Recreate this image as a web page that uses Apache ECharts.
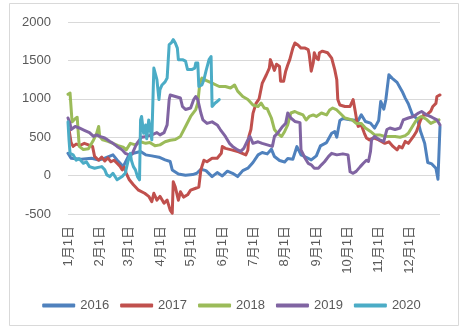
<!DOCTYPE html>
<html>
<head>
<meta charset="utf-8">
<script src="https://cdn.jsdelivr.net/npm/echarts@6/dist/echarts.min.js"></script>
<style>
  html, body { margin: 0; padding: 0; background: #fff; }
  #chart { width: 463px; height: 331px; }
</style>
</head>
<body>
<div id="chart"></div>
<script>
// Series names and colours
const seriesNames = ['2016', '2017', '2018', '2019', '2020'];
const seriesColors = ['#4F81BD', '#C0504D', '#9BBB59', '#8064A2', '#4BACC6'];

// Y axis range
const yTicks = [-500, 0, 500, 1000, 1500, 2000];

// Values as [day of year (0 = 1月1日), value]
const s2016 = [
  [0,291],[3,226],[13,213],[23,226],[30,204],[36,226],[44,270],[48,204],[51,161],[54,117],
  [59,248],[64,291],[71,313],[76,270],[82,257],[89,239],[95,204],[100,183],[102,74],[108,22],
  [115,4],[122,13],[126,30],[130,83],[135,65],[141,-13],[146,39],[151,-4],[156,57],[161,30],
  [166,-13],[171,65],[176,96],[181,170],[186,270],[190,300],[195,283],[199,344],[202,248],[207,196],
  [212,178],[215,222],[220,213],[224,378],[228,270],[233,239],[238,204],[243,257],[247,387],[253,430],
  [258,552],[261,574],[263,500],[266,718],[269,744],[276,726],[284,718],[287,792],[291,705],[296,683],
  [300,618],[304,718],[306,966],[309,866],[311,987],[314,1314],[317,1270],[322,1214],[327,1096],[330,1009],
  [333,935],[337,792],[342,735],[345,574],[349,422],[352,170],[356,152],[360,96],[362,-48],[363,-35],
  [364,640]
];
const s2017 = [
  [1,600],[3,430],[5,380],[8,410],[12,395],[16,420],[20,400],[24,380],[26,250],[30,200],
  [33,240],[36,190],[39,230],[42,180],[45,200],[48,160],[51,120],[53,75],[55,110],[57,30],
  [60,-55],[64,-120],[69,-190],[75,-230],[79,-270],[82,-340],[84,-230],[87,-320],[90,-270],[94,-360],
  [97,-320],[100,-450],[102,-490],[103,-80],[105,-150],[108,-320],[110,-210],[113,-280],[117,-250],[120,-190],
  [125,-165],[128,-150],[130,74],[133,200],[136,180],[141,225],[146,226],[150,290],[151,378],[154,355],
  [160,335],[167,310],[174,270],[176,330],[177,510],[179,600],[181,810],[184,940],[187,1000],[190,1200],
  [194,1310],[197,1400],[198,1510],[200,1440],[202,1370],[204,1450],[207,1420],[208,1230],[211,1230],[213,1360],
  [215,1440],[217,1510],[220,1660],[222,1727],[225,1700],[228,1660],[232,1660],[235,1640],[236,1580],[238,1360],
  [240,1470],[241,1600],[243,1530],[245,1510],[246,1600],[249,1620],[254,1600],[258,1530],[261,1380],[263,1250],
  [264,990],[266,920],[271,900],[276,900],[279,990],[281,840],[283,680],[284,640],[287,660],[290,550],
  [292,490],[295,465],[299,490],[300,465],[304,465],[310,420],[314,440],[318,380],[322,335],[324,380],
  [327,360],[330,445],[333,420],[338,510],[341,575],[345,725],[348,790],[351,790],[355,840],[357,900],
  [360,940],[361,1030],[364,1050]
];
const s2018 = [
  [0,1060],[2,1075],[3,1080],[4,700],[7,740],[9,760],[11,380],[15,340],[20,350],[25,465],
  [28,550],[30,640],[31,510],[34,465],[39,445],[44,420],[49,390],[54,370],[57,335],[61,420],
  [66,400],[71,440],[76,420],[80,430],[85,390],[90,400],[95,440],[100,460],[105,470],[110,510],
  [115,640],[120,770],[125,860],[127,945],[129,1205],[131,1270],[135,1240],[141,1205],[148,1160],[154,1160],
  [159,1140],[163,1180],[166,1100],[171,1030],[176,990],[181,920],[186,900],[189,945],[192,880],[195,870],
  [199,750],[202,600],[205,550],[209,510],[212,575],[215,660],[218,815],[222,835],[225,815],[230,790],
  [233,725],[236,770],[240,790],[243,770],[248,815],[253,790],[256,855],[259,880],[263,855],[266,815],
  [271,750],[278,725],[282,680],[287,680],[291,620],[296,575],[300,530],[305,530],[310,510],[315,510],
  [320,510],[325,500],[330,520],[333,552],[337,640],[340,705],[343,750],[346,770],[351,730],[355,680],
  [358,700],[363,726]
];
const s2019 = [
  [0,750],[2,680],[3,600],[7,640],[11,620],[16,590],[21,560],[25,510],[28,530],[31,510],
  [36,490],[41,445],[44,420],[48,380],[53,335],[56,290],[60,270],[63,290],[66,380],[68,430],
  [72,500],[77,510],[82,530],[87,560],[90,530],[94,560],[97,660],[99,990],[100,1050],[105,1030],
  [110,1010],[112,900],[115,860],[120,880],[123,990],[125,1030],[127,990],[130,815],[132,725],[136,680],
  [141,700],[146,660],[149,600],[154,510],[158,420],[161,380],[166,335],[169,315],[172,355],[176,465],
  [178,510],[181,420],[186,440],[190,420],[195,400],[200,380],[202,510],[205,550],[210,640],[213,680],
  [215,815],[218,750],[222,705],[227,690],[228,335],[232,226],[235,160],[238,140],[241,96],[245,96],
  [248,140],[251,180],[255,250],[258,290],[263,270],[269,283],[274,270],[276,50],[279,30],[282,55],
  [286,117],[289,160],[292,200],[294,183],[296,313],[297,465],[300,510],[305,465],[309,445],[312,600],
  [315,620],[320,600],[325,620],[328,725],[333,750],[338,770],[343,815],[346,835],[351,790],[356,760],
  [361,726],[364,660]
];
const s2020 = [
  [0,700],[1,465],[2,290],[5,270],[8,200],[11,220],[15,160],[18,180],[21,117],[26,96],
  [33,117],[36,75],[38,10],[41,-13],[44,30],[48,-55],[49,-78],[53,-13],[56,30],[59,204],
  [61,290],[62,200],[64,117],[66,75],[68,-13],[70,-55],[71,725],[72,770],[74,550],[76,660],
  [77,480],[79,725],[80,640],[82,465],[84,1400],[85,1380],[87,1250],[89,990],[90,1120],[92,1180],
  [95,1220],[97,1270],[99,1705],[101,1727],[103,1770],[105,1727],[107,1660],[108,1510],[112,1510],[115,1490],
  [117,1380],[121,1380],[124,1400],[125,1466],[127,1466],[128,1160],[131,1180],[133,1250],[135,1360],[138,1510],
  [140,1550],[141,900],[144,945],[146,965],[148,990]
];
const seriesValues = [s2016, s2017, s2018, s2019, s2020];

// Daily category labels, e.g. "3月1日"
const monthLengths = [31, 28, 31, 30, 31, 30, 31, 31, 30, 31, 30, 31];
const days = [];
monthLengths.forEach((len, m) => {
  for (let d = 1; d <= len; d++) days.push((m + 1) + '月' + d + '日');
});

const font = "'Liberation Sans', 'Noto Sans CJK SC', sans-serif";
const textColor = '#595959';

const chart = echarts.init(document.getElementById('chart'), null, { renderer: 'canvas' });
chart.setOption({
  animation: false,
  backgroundColor: '#ffffff',
  graphic: [{
    type: 'rect',
    shape: { x: 9.5, y: 3.5, width: 449, height: 322 },
    style: { fill: 'none', stroke: '#d9d9d9', lineWidth: 1 },
    silent: true
  }],
  grid: { left: 68, right: 23, top: 22, bottom: 117, containLabel: false },
  legend: {
    data: seriesNames,
    left: 'center',
    top: 294,
    icon: 'roundRect',
    itemWidth: 33,
    itemHeight: 4,
    itemGap: 11,
    textStyle: { color: textColor, fontSize: 13, fontFamily: font }
  },
  xAxis: {
    type: 'category',
    data: days,
    boundaryGap: false,
    axisLine: { show: false },
    axisTick: { show: false },
    splitLine: { show: false },
    axisLabel: {
      rotate: 90,
      margin: 12,
      color: textColor,
      fontSize: 13,
      fontFamily: font,
      interval: (index, value) => /月1日$/.test(value)
    }
  },
  yAxis: {
    type: 'value',
    min: yTicks[0],
    max: yTicks[yTicks.length - 1],
    interval: 500,
    axisLine: { show: false },
    axisTick: { show: false },
    splitLine: { lineStyle: { color: '#d9d9d9', width: 1 } },
    axisLabel: {
      color: textColor, fontSize: 13, fontFamily: font, margin: 17,
      formatter: (v) => String(v)
    }
  },
  series: seriesNames.map((name, i) => ({
    name: name,
    type: 'line',
    data: seriesValues[i],
    showSymbol: false,
    symbol: 'none',
    color: seriesColors[i],
    lineStyle: { width: 3, color: seriesColors[i], cap: 'round', join: 'round' }
  }))
});
</script>
</body>
</html>
